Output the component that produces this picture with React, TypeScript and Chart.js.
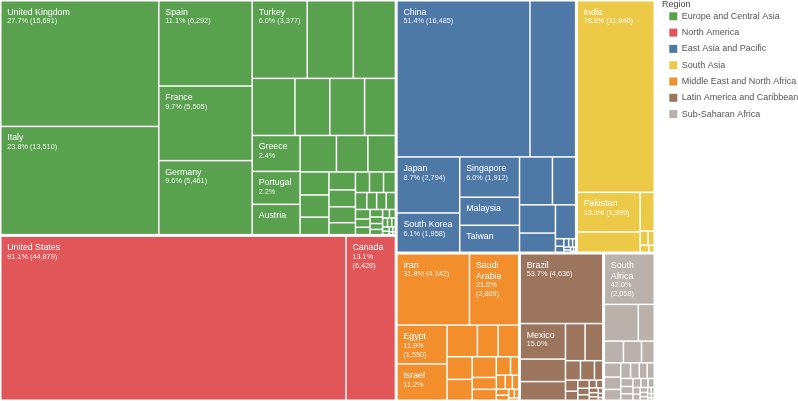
import React, { useEffect, useRef } from "react";
import { Chart, registerables } from "chart.js";
Chart.register(...registerables);

// ---- Regions ----
const regionNames = [
  "Europe and Central Asia",
  "North America",
  "East Asia and Pacific",
  "South Asia",
  "Middle East and North Africa",
  "Latin America and Caribbean",
  "Sub-Saharan Africa",
];
const regionColors = ["#59A14F", "#E15759", "#4E79A7", "#EDC948", "#F28E2B", "#9C755F", "#BAB0AC"];

// ---- Europe and Central Asia ----
const europeNames = ["United Kingdom", "Italy", "Spain", "France", "Germany", "Turkey", "Greece", "Portugal", "Austria"];
const europeValues = [15691, 13510, 6292, 5505, 5461, 3377, 1360, 1246, 1147];
const europePercents = [27.7, 23.8, 11.1, 9.7, 9.6, 6.0, 2.4, 2.2, null];
const europeOthers = [2825, 2580, 1930, 1570, 1570, 1390, 1049, 907, 794, 525, 505, 400, 375, 354, 333, 250, 228, 228, 193, 152, 132, 128, 123, 110, 95, 85, 75, 65, 58, 52, 46, 40, 35, 30, 26, 22, 18, 14, 10, 8, 6];

// ---- North America ----
const naNames = ["United States", "Canada"];
const naValues = [44879, 6428];
const naPercents = [91.1, 13.1];
const naOthers: number[] = [];

// ---- East Asia and Pacific ----
const eapNames = ["China", "Japan", "South Korea", "Singapore", "Malaysia", "Taiwan"];
const eapValues = [16485, 2794, 1958, 1912, 1330, 1280];
const eapPercents = [51.4, 8.7, 6.1, 6.0, null, null];
const eapOthers = [5660, 1250, 883, 806, 547, 544, 50, 40, 32, 26, 20, 16, 12, 10, 7, 4];

// ---- South Asia ----
const saNames = ["India", "Pakistan"];
const saValues = [11846, 1999];
const saPercents = [78.8, 13.3];
const saOthers = [1025, 440, 90, 70, 50, 30];

// ---- Middle East and North Africa ----
const meNames = ["Iran", "Saudi Arabia", "Egypt", "Israel"];
const meValues = [4142, 2809, 1550, 1459];
const mePercents = [31.8, 21.6, 11.9, 11.2];
const meOthers = [769, 521, 521, 455, 420, 400, 230, 211, 210, 120, 100, 80, 70, 60, 50, 40, 30, 20];

// ---- Latin America and Caribbean ----
const laNames = ["Brazil", "Mexico"];
const laValues = [4636, 1295];
const laPercents = [53.7, 15.0];
const laOthers = [820, 680, 585, 530, 234, 218, 130, 110, 90, 75, 60, 50, 45, 40, 35, 30, 25, 20, 15, 10];

// ---- Sub-Saharan Africa ----
const ssaNames = ["South Africa"];
const ssaValues = [2058];
const ssaPercents = [42.0];
const ssaOthers = [1015, 476, 340, 320, 226, 190, 165, 145, 125, 110, 100, 90, 80, 72, 65, 58, 52, 46, 40, 35, 30, 26, 22, 18, 15, 12, 10, 8, 6];

const regionNamed = [europeNames, naNames, eapNames, saNames, meNames, laNames, ssaNames];
const regionValues = [europeValues, naValues, eapValues, saValues, meValues, laValues, ssaValues];
const regionPercents = [europePercents, naPercents, eapPercents, saPercents, mePercents, laPercents, ssaPercents];
const regionOthers = [europeOthers, naOthers, eapOthers, saOthers, meOthers, laOthers, ssaOthers];

// layout extents in scale units
const MAP_W = 655;
const MAP_H = 401;
const X_MAX = 662;
const PHI = (1 + Math.sqrt(5)) / 2;

type Rect = { x0: number; y0: number; x1: number; y1: number };
type Leaf = { name: string; value: number; detail: string | null };

function squarify(values: number[], rect: Rect, ratio: number): Rect[] {
  const out: Rect[] = new Array(values.length);
  let { x0, y0, x1, y1 } = rect;
  let value = values.reduce((a, b) => a + b, 0);
  const n = values.length;
  let i0 = 0;
  let i1 = 0;
  while (i0 < n) {
    const dx = x1 - x0;
    const dy = y1 - y0;
    let sumValue = 0;
    do sumValue = values[i1++]; while (!sumValue && i1 < n);
    let minValue = sumValue;
    let maxValue = sumValue;
    const alpha = Math.max(dy / dx, dx / dy) / (value * ratio);
    let beta = sumValue * sumValue * alpha;
    let minRatio = Math.max(maxValue / beta, beta / minValue);
    for (; i1 < n; ++i1) {
      const nv = values[i1];
      sumValue += nv;
      if (nv < minValue) minValue = nv;
      if (nv > maxValue) maxValue = nv;
      beta = sumValue * sumValue * alpha;
      const newRatio = Math.max(maxValue / beta, beta / minValue);
      if (newRatio > minRatio) {
        sumValue -= nv;
        break;
      }
      minRatio = newRatio;
    }
    if (dx < dy) {
      const ny = value ? y0 + (dy * sumValue) / value : y1;
      const k = sumValue ? (x1 - x0) / sumValue : 0;
      let x = x0;
      for (let i = i0; i < i1; i++) {
        const w = values[i] * k;
        out[i] = { x0: x, y0, x1: x + w, y1: ny };
        x += w;
      }
      y0 = ny;
    } else {
      const nx = value ? x0 + (dx * sumValue) / value : x1;
      const k = sumValue ? (y1 - y0) / sumValue : 0;
      let y = y0;
      for (let i = i0; i < i1; i++) {
        const h = values[i] * k;
        out[i] = { x0, y0: y, x1: nx, y1: y + h };
        y += h;
      }
      x0 = nx;
    }
    value -= sumValue;
    i0 = i1;
  }
  return out;
}

function buildLeaves(r: number): Leaf[] {
  const leaves: Leaf[] = [];
  regionNamed[r].forEach((nm, i) => {
    const v = regionValues[r][i];
    const p = regionPercents[r][i];
    leaves.push({
      name: nm,
      value: v,
      detail: p == null ? null : `${p.toFixed(1)}% (${v.toLocaleString("en-US")})`,
    });
  });
  regionOthers[r].forEach((v) => leaves.push({ name: "", value: v, detail: null }));
  leaves.sort((a, b) => b.value - a.value);
  return leaves;
}

function wrap(ctx: CanvasRenderingContext2D, text: string, maxW: number): string[] {
  const words = text.split(" ");
  const lines: string[] = [];
  let cur = "";
  for (const w of words) {
    const t = cur ? cur + " " + w : w;
    if (cur && ctx.measureText(t).width > maxW) {
      lines.push(cur);
      cur = w;
    } else cur = t;
  }
  if (cur) lines.push(cur);
  return lines;
}

const FONT_FAMILY = "'Liberation Sans', Arial, sans-serif";
const NAME_FONT = `8.8px ${FONT_FAMILY}`;
const DETAIL_FONT = `7.3px ${FONT_FAMILY}`;

const treemapPlugin = {
  id: "treemapCells",
  afterDatasetsDraw(chart: any) {
    const ctx: CanvasRenderingContext2D = chart.ctx;
    const xs = chart.scales.x;
    const ys = chart.scales.y;
    const regionIdx = regionNames.map((_, i) => i);
    const regionLeaves = regionIdx.map((i) => buildLeaves(i));
    const totals = regionLeaves.map((ls) => ls.reduce((a, l) => a + l.value, 0));
    const order = regionIdx.slice().sort((a, b) => totals[b] - totals[a]);
    const regionRects = squarify(order.map((i) => totals[i]), { x0: 0, y0: 0, x1: MAP_W, y1: MAP_H }, PHI);
    const regPad = 0.75;
    const leafPad = 0.75;
    ctx.save();
    order.forEach((ri, k) => {
      const rr = regionRects[k];
      const inner = { x0: rr.x0 + regPad, y0: rr.y0 + regPad, x1: rr.x1 - regPad, y1: rr.y1 - regPad };
      const leaves = regionLeaves[ri];
      const rects = squarify(leaves.map((l) => l.value), inner, PHI);
      leaves.forEach((leaf, j) => {
        const r = rects[j];
        const px0 = xs.getPixelForValue(r.x0);
        const px1 = xs.getPixelForValue(r.x1);
        const py0 = ys.getPixelForValue(r.y0);
        const py1 = ys.getPixelForValue(r.y1);
        const left = Math.min(px0, px1);
        const top = Math.min(py0, py1);
        const w = Math.abs(px1 - px0);
        const h = Math.abs(py1 - py0);
        ctx.fillStyle = regionColors[ri];
        ctx.fillRect(left + leafPad, top + leafPad, Math.max(0, w - 2 * leafPad), Math.max(0, h - 2 * leafPad));
        if (!leaf.name) return;
        const maxW = w - 9;
        ctx.font = NAME_FONT;
        const nameLines = wrap(ctx, leaf.name, maxW);
        ctx.font = DETAIL_FONT;
        const detailLines = leaf.detail ? wrap(ctx, leaf.detail, maxW) : [];
        const lines = [
          ...nameLines.map((t) => ({ t, name: true })),
          ...detailLines.map((t) => ({ t, name: false })),
        ];
        let baseline = top + 14;
        ctx.textBaseline = "alphabetic";
        ctx.textAlign = "left";
        for (let i = 0; i < lines.length; i++) {
          if (i > 0) baseline += lines[i].name ? 11 : 8.7;
          if (baseline + 6 - top > h) break;
          ctx.font = lines[i].name ? NAME_FONT : DETAIL_FONT;
          ctx.fillStyle = lines[i].name ? "#ffffff" : "rgba(255,255,255,0.88)";
          ctx.fillText(lines[i].t, left + 6.5, baseline);
        }
      });
    });
    ctx.restore();
  },
};

export default function App() {
  const canvasRef = useRef<HTMLCanvasElement | null>(null);
  useEffect(() => {
    document.body.style.margin = "0";
    const canvas = canvasRef.current;
    if (!canvas) return;
    Chart.defaults.font.family = FONT_FAMILY;
    const chart = new Chart(canvas, {
      type: "scatter",
      data: {
        datasets: regionNames.map((nm, i) => ({
          label: nm,
          data: [],
          backgroundColor: regionColors[i],
          borderColor: regionColors[i],
          borderWidth: 0,
        })),
      },
      options: {
        animation: false,
        responsive: false,
        maintainAspectRatio: false,
        events: [],
        layout: { padding: 0 },
        scales: {
          x: { type: "linear", min: 0, max: X_MAX, display: false },
          y: { type: "linear", min: 0, max: MAP_H, reverse: true, display: false },
        },
        plugins: {
          tooltip: { enabled: false },
          legend: {
            display: true,
            position: "right",
            align: "start",
            maxWidth: 136,
            title: {
              display: true,
              text: "Region",
              position: "start",
              color: "#444",
              padding: 0,
              font: { size: 9, lineHeight: 0.5 },
            },
            labels: {
              boxWidth: 8,
              boxHeight: 8,
              padding: 7.3,
              color: "#555",
              font: { size: 9 },
            },
          },
        },
      } as any,
      plugins: [treemapPlugin],
    });
    return () => chart.destroy();
  }, []);
  return (
    <div style={{ width: 798, height: 401 }}>
      <canvas ref={canvasRef} width={798} height={401} style={{ display: "block" }} />
    </div>
  );
}
